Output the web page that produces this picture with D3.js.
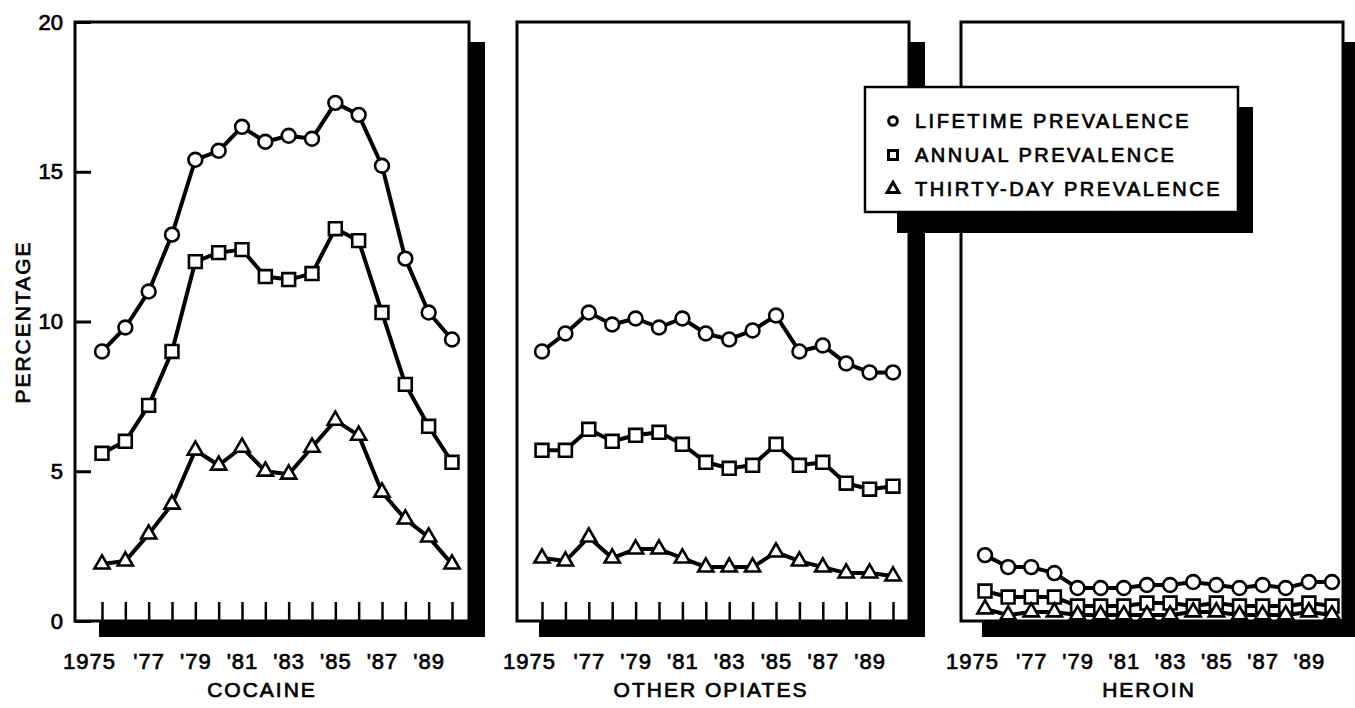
<!DOCTYPE html>
<html lang="en">
<head>
<meta charset="UTF-8" />
<title>Cocaine, other opiates, heroin prevalence 1975-1990</title>
<style>
  html, body { margin: 0; padding: 0; background: #fff; }
  svg { display: block; }
  text { font-family: "Liberation Sans", Arial, Helvetica, sans-serif; fill: #000; stroke: #000; stroke-width: 0.7px; }
</style>
</head>
<body>
<script src="https://cdnjs.cloudflare.com/ajax/libs/d3/7.8.5/d3.min.js"></script>
<div id="chart"></div>
<script>
// years on the x axis
const years = [1975, 1976, 1977, 1978, 1979, 1980, 1981, 1982, 1983, 1984, 1985, 1986, 1987, 1988, 1989, 1990];
const labelYears = [1975, 1977, 1979, 1981, 1983, 1985, 1987, 1989];
const yearLabels = ["1975", "'77", "'79", "'81", "'83", "'85", "'87", "'89"];
const yTicks = [0, 5, 10, 15, 20];

const seriesNames = ["LIFETIME PREVALENCE", "ANNUAL PREVALENCE", "THIRTY-DAY PREVALENCE"];

// cocaine
const cocaineLifetime = [9.0, 9.8, 11.0, 12.9, 15.4, 15.7, 16.5, 16.0, 16.2, 16.1, 17.3, 16.9, 15.2, 12.1, 10.3, 9.4];
const cocaineAnnual   = [5.6, 6.0, 7.2, 9.0, 12.0, 12.3, 12.4, 11.5, 11.4, 11.6, 13.1, 12.7, 10.3, 7.9, 6.5, 5.3];
const cocaineThirty   = [1.9, 2.0, 2.9, 3.9, 5.7, 5.2, 5.8, 5.0, 4.9, 5.8, 6.7, 6.2, 4.3, 3.4, 2.8, 1.9];

// other opiates
const opiatesLifetime = [9.0, 9.6, 10.3, 9.9, 10.1, 9.8, 10.1, 9.6, 9.4, 9.7, 10.2, 9.0, 9.2, 8.6, 8.3, 8.3];
const opiatesAnnual   = [5.7, 5.7, 6.4, 6.0, 6.2, 6.3, 5.9, 5.3, 5.1, 5.2, 5.9, 5.2, 5.3, 4.6, 4.4, 4.5];
const opiatesThirty   = [2.1, 2.0, 2.8, 2.1, 2.4, 2.4, 2.1, 1.8, 1.8, 1.8, 2.3, 2.0, 1.8, 1.6, 1.6, 1.5];

// heroin
const heroinLifetime = [2.2, 1.8, 1.8, 1.6, 1.1, 1.1, 1.1, 1.2, 1.2, 1.3, 1.2, 1.1, 1.2, 1.1, 1.3, 1.3];
const heroinAnnual   = [1.0, 0.8, 0.8, 0.8, 0.5, 0.5, 0.5, 0.6, 0.6, 0.5, 0.6, 0.5, 0.5, 0.5, 0.6, 0.5];
const heroinThirty   = [0.4, 0.2, 0.3, 0.3, 0.2, 0.2, 0.2, 0.2, 0.2, 0.3, 0.3, 0.2, 0.2, 0.2, 0.3, 0.2];

// panel layout (pixels)
const panels = [
    { name: "COCAINE", series: [cocaineLifetime, cocaineAnnual, cocaineThirty],
      left: 75, right: 469, x0: 102, x1: 452, titleX: 262, yAxis: true, ticks: true },
    { name: "OTHER OPIATES", series: [opiatesLifetime, opiatesAnnual, opiatesThirty],
      left: 517, right: 909, x0: 542, x1: 893, titleX: 711, yAxis: false, ticks: true },
    { name: "HEROIN", series: [heroinLifetime, heroinAnnual, heroinThirty],
      left: 961, right: 1343, x0: 985, x1: 1332, titleX: 1149, yAxis: false, ticks: false }
];

const W = 1355, H = 708;
const plotTop = 22, plotBottom = 621;
const shadow = 16;

const symbols = [d3.symbolCircle, d3.symbolSquare, d3.symbolTriangle];
const symbolSizes = [150, 165, 100];
const legendSizes = [60, 81, 60];

const svg = d3.select("#chart").append("svg")
    .attr("width", W)
    .attr("height", H);

const y = d3.scaleLinear().domain([0, 20]).range([plotBottom, plotTop]);

panels.forEach((p) => {
    const g = svg.append("g");
    const x = d3.scaleLinear().domain([years[0], years[years.length - 1]]).range([p.x0, p.x1]);

    // drop shadow (right and bottom)
    g.append("rect")
        .attr("x", p.right).attr("y", plotTop + 20)
        .attr("width", shadow).attr("height", plotBottom - plotTop - 20 + shadow)
        .attr("fill", "#000");
    g.append("rect")
        .attr("x", p.x0 - 3).attr("y", plotBottom)
        .attr("width", p.right + shadow - p.x0 + 3).attr("height", shadow)
        .attr("fill", "#000");

    // frame
    g.append("rect")
        .attr("x", p.left).attr("y", plotTop)
        .attr("width", p.right - p.left).attr("height", plotBottom - plotTop)
        .attr("fill", "#fff")
        .attr("stroke", "#000")
        .attr("stroke-width", 3);

    // x axis: inward ticks, sparse labels
    const xAxis = d3.axisBottom(x)
        .tickValues(years)
        .tickSizeInner(p.ticks ? -19 : 0)
        .tickSizeOuter(0)
        .tickPadding(32)
        .tickFormat((d) => {
            const i = labelYears.indexOf(d);
            return i < 0 ? "" : yearLabels[i];
        });
    const xg = g.append("g")
        .attr("transform", `translate(0,${plotBottom})`)
        .call(xAxis);
    xg.select(".domain").remove();
    xg.selectAll(".tick line").attr("stroke", "#000").attr("stroke-width", 2.5);
    xg.selectAll(".tick text")
        .attr("font-size", 22)
        .attr("letter-spacing", 1)
        .attr("font-family", null)
        .attr("dx", (d) => d === years[0] ? -13 : 0);

    // panel title
    g.append("text")
        .attr("x", p.titleX)
        .attr("y", 697)
        .attr("text-anchor", "middle")
        .attr("font-size", 21)
        .attr("letter-spacing", 2)
        .text(p.name);

    if (p.yAxis) {
        const yAxis = d3.axisLeft(y)
            .tickValues(yTicks)
            .tickSizeInner(-16)
            .tickSizeOuter(0)
            .tickPadding(12);
        const yg = g.append("g")
            .attr("transform", `translate(${p.left},0)`)
            .call(yAxis);
        yg.select(".domain").remove();
        yg.selectAll(".tick line").attr("stroke", "#000").attr("stroke-width", 3);
        yg.selectAll(".tick text")
            .attr("font-size", 22)
            .attr("font-family", null);

        g.append("text")
            .attr("transform", "translate(30,322) rotate(-90)")
            .attr("text-anchor", "middle")
            .attr("font-size", 21)
            .attr("letter-spacing", 2)
            .text("PERCENTAGE");
    }

    const line = d3.line()
        .x((d, i) => x(years[i]))
        .y((d) => y(d));

    p.series.forEach((values) => {
        g.append("path")
            .datum(values)
            .attr("d", line)
            .attr("fill", "none")
            .attr("stroke", "#000")
            .attr("stroke-width", 4)
            .attr("stroke-linejoin", "round");
    });

    p.series.forEach((values, s) => {
        g.append("g")
            .selectAll("path")
            .data(values)
            .join("path")
            .attr("transform", (d, i) => `translate(${x(years[i])},${y(d)})`)
            .attr("d", d3.symbol(symbols[s], symbolSizes[s]))
            .attr("fill", "#fff")
            .attr("stroke", "#000")
            .attr("stroke-width", 2.6);
    });
});

// legend with its own shadow
const lg = svg.append("g");
const box = { x: 865, y: 87, w: 373, h: 125 };
lg.append("rect")
    .attr("x", box.x + box.w).attr("y", box.y + 20)
    .attr("width", 15).attr("height", box.h - 20 + 21)
    .attr("fill", "#000");
lg.append("rect")
    .attr("x", box.x + 32).attr("y", box.y + box.h)
    .attr("width", box.w - 32 + 15).attr("height", 21)
    .attr("fill", "#000");
lg.append("rect")
    .attr("x", box.x).attr("y", box.y)
    .attr("width", box.w).attr("height", box.h)
    .attr("fill", "#fff")
    .attr("stroke", "#000")
    .attr("stroke-width", 2.5);

const rows = lg.selectAll("g.row")
    .data(seriesNames)
    .join("g")
    .attr("class", "row")
    .attr("transform", (d, i) => `translate(${box.x + 28},${box.y + 34 + i * 34})`);
rows.append("path")
    .attr("d", (d, i) => d3.symbol(symbols[i], legendSizes[i])())
    .attr("fill", "#fff")
    .attr("stroke", "#000")
    .attr("stroke-width", 3);
rows.append("text")
    .attr("x", 22)
    .attr("y", 7)
    .attr("font-size", 20)
    .attr("letter-spacing", 2.5)
    .text((d) => d);
</script>
</body>
</html>
